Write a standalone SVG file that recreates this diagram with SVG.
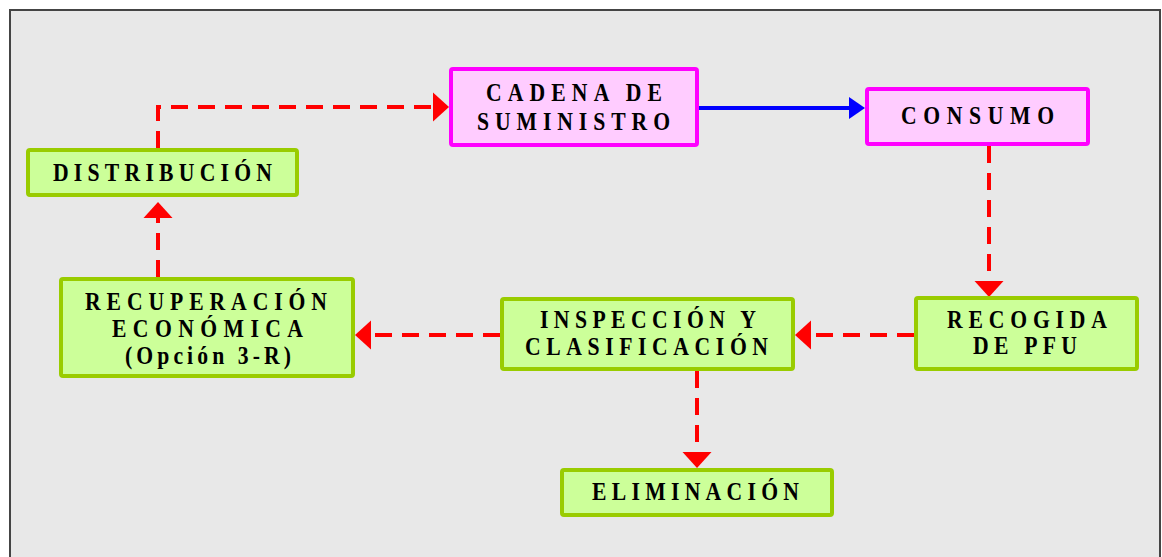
<svg xmlns="http://www.w3.org/2000/svg" width="1162" height="557" viewBox="0 0 1162 557">
  <style>
    .g rect { fill: #ccff99; stroke: #99cc00; stroke-width: 4; }
    .p rect { fill: #ffccff; stroke: #ff00ff; stroke-width: 4; }
    text { font-family: "Liberation Serif", "Times New Roman", serif; font-weight: bold; font-size: 25.5px; fill: #000; }
    .red { fill: none; stroke: #ff0000; stroke-width: 4; stroke-dasharray: 17 10; marker-end: url(#ar); }
    .blue { fill: none; stroke: #0000ff; stroke-width: 4; marker-end: url(#ab); }
  </style>
  <defs>
    <marker id="ar" markerUnits="userSpaceOnUse" markerWidth="18" markerHeight="30" refX="0" refY="14.5" orient="auto" overflow="visible">
      <path d="M0,0 L16,14.5 L0,29 z" fill="#ff0000"/>
    </marker>
    <marker id="ab" markerUnits="userSpaceOnUse" markerWidth="18" markerHeight="24" refX="0" refY="11" orient="auto" overflow="visible">
      <path d="M0,0 L16,11 L0,22 z" fill="#0000ff"/>
    </marker>
  </defs>
  <rect x="0" y="0" width="1162" height="557" fill="#ffffff"/>
  <rect x="10" y="10" width="1150" height="560" fill="#e8e8e8" stroke="#444444" stroke-width="2"/>

  <g id="connectors">
    <path class="red" d="M158,148 V107 H433"/>
    <path class="blue" d="M699,108 H849"/>
    <path class="red" d="M989,146 V281"/>
    <path class="red" d="M914,335 H811"/>
    <path class="red" d="M500,335 H371"/>
    <path class="red" d="M697,371 V452"/>
    <path class="red" d="M158,277 V218"/>
  </g>

  <g id="distribucion" class="g">
    <rect x="28" y="150" width="269" height="45" rx="2"/>
    <text transform="scale(0.85 1)" x="62.35" y="181" textLength="257.65" lengthAdjust="spacing">DISTRIBUCIÓN</text>
  </g>
  <g id="cadena" class="p">
    <rect x="451" y="69" width="246" height="76" rx="2"/>
    <text transform="scale(0.85 1)" x="571.76" y="101" textLength="207.06" lengthAdjust="spacing">CADENA DE</text>
    <text transform="scale(0.85 1)" x="561.18" y="130" textLength="227.06" lengthAdjust="spacing">SUMINISTRO</text>
  </g>
  <g id="consumo" class="p">
    <rect x="867" y="89" width="221" height="55" rx="2"/>
    <text transform="scale(0.85 1)" x="1060" y="124" textLength="180" lengthAdjust="spacing">CONSUMO</text>
  </g>
  <g id="recogida" class="g">
    <rect x="916" y="298" width="221" height="71" rx="2"/>
    <text transform="scale(0.85 1)" x="1114.12" y="328" textLength="188.24" lengthAdjust="spacing">RECOGIDA</text>
    <text transform="scale(0.85 1)" x="1144.71" y="354" textLength="122.35" lengthAdjust="spacing">DE PFU</text>
  </g>
  <g id="inspeccion" class="g">
    <rect x="502" y="299" width="291" height="70" rx="2"/>
    <text transform="scale(0.85 1)" x="635.29" y="328" textLength="254.12" lengthAdjust="spacing">INSPECCIÓN Y</text>
    <text transform="scale(0.85 1)" x="617.65" y="355" textLength="285.88" lengthAdjust="spacing">CLASIFICACIÓN</text>
  </g>
  <g id="recuperacion" class="g">
    <rect x="61" y="279" width="292" height="97" rx="2"/>
    <text transform="scale(0.85 1)" x="100" y="310" textLength="284.71" lengthAdjust="spacing">RECUPERACIÓN</text>
    <text transform="scale(0.85 1)" x="131.76" y="337" textLength="224.71" lengthAdjust="spacing">ECONÓMICA</text>
    <text transform="scale(0.85 1)" x="147.06" y="364" textLength="195.29" lengthAdjust="spacing">(Opción 3-R)</text>
  </g>
  <g id="eliminacion" class="g">
    <rect x="562" y="470" width="270" height="45" rx="2"/>
    <text transform="scale(0.85 1)" x="696.47" y="500" textLength="243.53" lengthAdjust="spacing">ELIMINACIÓN</text>
  </g>
</svg>
